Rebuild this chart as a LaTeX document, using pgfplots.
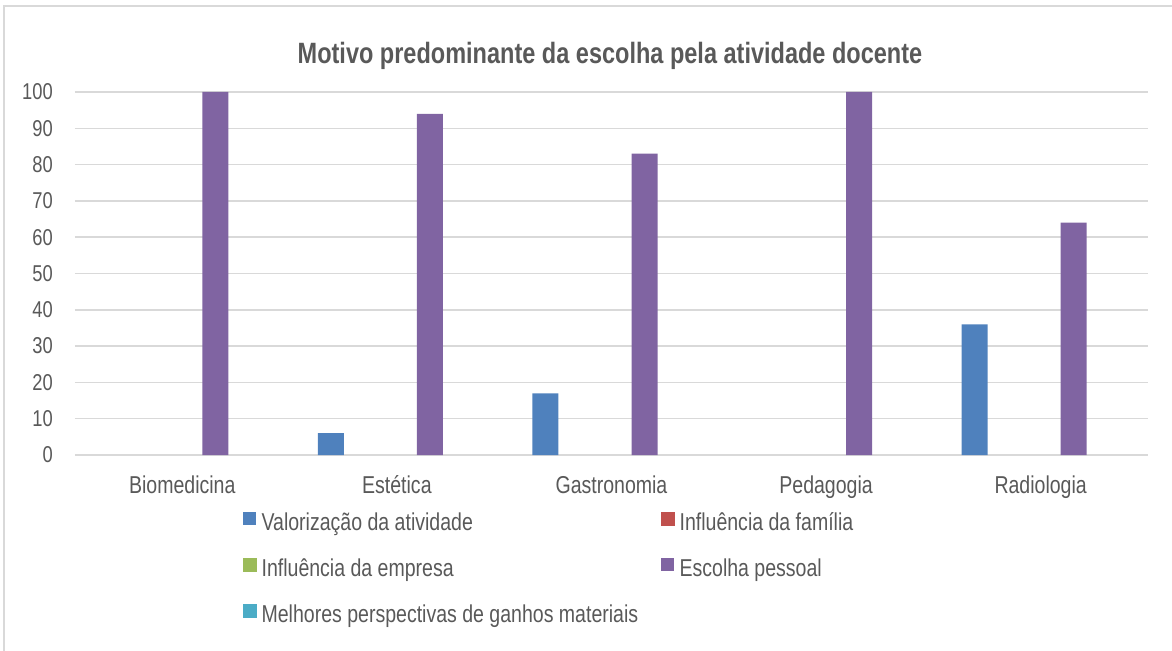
\documentclass[border=0pt]{standalone}
\usepackage{pgfplots}
\pgfplotsset{compat=1.18}
\usepackage{fontspec}
\setmainfont{Liberation Sans}[FakeStretch=0.8]

\definecolor{txt}{HTML}{595959}
\definecolor{gridc}{HTML}{D9D9D9}
\definecolor{cblue}{HTML}{4F81BD}
\definecolor{cred}{HTML}{C0504D}
\definecolor{cgreen}{HTML}{9BBB59}
\definecolor{cpurple}{HTML}{8064A2}
\definecolor{cteal}{HTML}{4BACC6}

\pgfplotsset{
  sqleg/.style={legend image code/.code={\fill[#1] (0bp,-3bp) rectangle (13bp,10bp); \path (16bp,0bp);}},
  sq/.style={ybar, bar width=0.121, draw=none, fill=#1,
    unbounded coords=discard,
    y filter/.expression={y==0 ? nan : y},
    sqleg=#1},
}

\begin{document}
\begin{tikzpicture}
\path[use as bounding box] (-75bp,-196bp) rectangle (1097bp,455bp);
\draw[gridc, line width=1.5bp] (-71bp,-200bp) -- (-71bp,449bp) -- (1100bp,449bp);
\begin{axis}[
  scale only axis, width=1073bp, height=363bp,
  at={(0,0)}, anchor=south west,
  xmin=-0.5, xmax=4.5, ymin=0, ymax=100,
  xtick={0,1,2,3,4},
  xticklabels={Biomedicina, Estética, Gastronomia, Pedagogia, Radiologia},
  ytick={0,10,...,100},
  major tick length=0,
  axis line style={draw=none},
  ymajorgrids, grid style={gridc, line width=1.5bp},
  /pgf/number format/assume math mode=true,
  ticklabel style={font=\fontsize{23}{27}\selectfont, text=txt, inner sep=0pt},
  yticklabel style={anchor=east, xshift=-22bp},
  xticklabel style={anchor=base, yshift=-38bp, font=\fontsize{24.5}{29}\selectfont},
  title={Motivo predominante da escolha pela atividade docente},
  title style={font=\bfseries\fontsize{29.5}{35}\selectfont, text=txt,
    at={(0.4986,1)}, anchor=base, yshift=23bp},
  legend columns=2,
  legend cell align=left,
  legend style={at={(0.1566,-0.1515)}, anchor=north west, draw=none, fill=none,
    inner sep=0pt, font=\fontsize{24.5}{29}\selectfont, text=txt,
    row sep=23bp,
    /tikz/every even column/.append style={column sep=21bp}},
]
% Valorização da atividade
\addplot[sq=cblue, bar shift=-0.308] coordinates {(0,0) (1,6) (2,17) (3,0) (4,36)};
\addlegendentry{Valorização da atividade}
% Influência da família
\addplot[sq=cred, bar shift=-0.154, forget plot] coordinates {(0,0) (1,0) (2,0) (3,0) (4,0)};
\addlegendimage{sqleg=cred}
\addlegendentry{Influência da família}
% Influência da empresa
\addplot[sq=cgreen, bar shift=0, forget plot] coordinates {(0,0) (1,0) (2,0) (3,0) (4,0)};
\addlegendimage{sqleg=cgreen}
\addlegendentry{Influência da empresa}
% Escolha pessoal
\addplot[sq=cpurple, bar shift=0.154] coordinates {(0,100) (1,94) (2,83) (3,100) (4,64)};
\addlegendentry{Escolha pessoal}
% Melhores perspectivas de ganhos materiais
\addplot[sq=cteal, bar shift=0.308, forget plot] coordinates {(0,0) (1,0) (2,0) (3,0) (4,0)};
\addlegendimage{sqleg=cteal}
\addlegendentry{Melhores perspectivas de ganhos materiais}
\end{axis}
\end{tikzpicture}
\end{document}
